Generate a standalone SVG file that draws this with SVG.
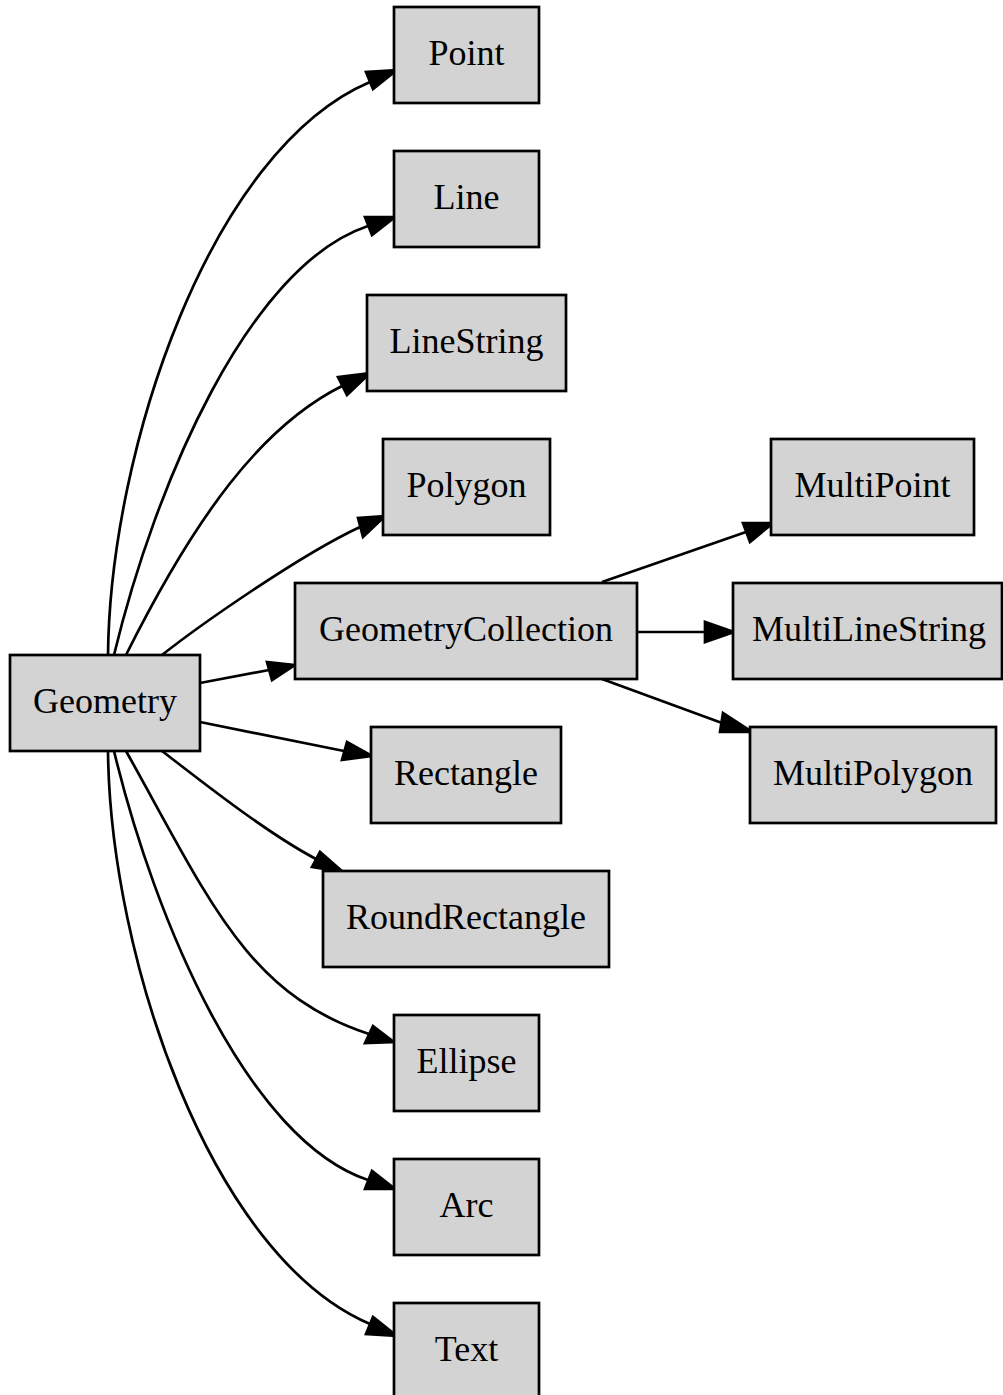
<svg xmlns="http://www.w3.org/2000/svg" width="1003" height="1395" viewBox="0 0 1003 1395">
<style>
.node rect{fill:#d3d3d3;stroke:#000;stroke-width:2.7}
.node text{font-family:"Liberation Serif","Times New Roman",serif;font-size:36px;text-anchor:middle;fill:#000}
.edges path{fill:none;stroke:#000;stroke-width:2.7}
.edges polygon{fill:#000;stroke:#000;stroke-width:2.7;stroke-linejoin:miter}
</style>
<rect x="0" y="0" width="1003" height="1395" fill="#fff"/>
<g id="edges" class="edges">
<path d="M108,655 C110,450 210,150 370,82"/><polygon points="397,70 366,72 373,89"/>
<path d="M114,655 C155,485 248,266 368,226"/><polygon points="395,217 365,217 372,235"/>
<path d="M126,655 C196,515 262,426 342,386"/><polygon points="370,373 338,377 347,395"/>
<path d="M162,655 C200,625 300,555 360,527"/><polygon points="385,516 358,518 363,537"/>
<path d="M200,683 L269,670"/><polygon points="295,665 267,662 272,680"/>
<path d="M200,722 L344,751"/><polygon points="372,756 347,742 342,760"/>
<path d="M162,751 C200,780 265,832 316,859"/><polygon points="343,872 320,852 312,867"/>
<path d="M126,751 C210,901 247,994 369,1034"/><polygon points="394,1042 373,1026 365,1043"/>
<path d="M114,751 C155,921 248,1140 368,1180"/><polygon points="395,1189 365,1189 372,1171"/>
<path d="M108,751 C110,956 210,1256 370,1324"/><polygon points="397,1336 366,1334 373,1317"/>
<path d="M602,582 L746,532"/><polygon points="773,523 743,523 750,542"/>
<path d="M637,632 L705,632"/><polygon points="734,632 705,622 705,642"/>
<path d="M602,679 L722,723"/><polygon points="752,732 723,713 720,732"/>
</g>
<g id="node-Geometry" class="node"><rect x="10" y="655" width="190" height="96"/><text x="105" y="713">Geometry</text></g>
<g id="node-Point" class="node"><rect x="394" y="7" width="145" height="96"/><text x="466.5" y="65">Point</text></g>
<g id="node-Line" class="node"><rect x="394" y="151" width="145" height="96"/><text x="466.5" y="209">Line</text></g>
<g id="node-LineString" class="node"><rect x="367" y="295" width="199" height="96"/><text x="466.5" y="353">LineString</text></g>
<g id="node-Polygon" class="node"><rect x="383" y="439" width="167" height="96"/><text x="466.5" y="497">Polygon</text></g>
<g id="node-GeometryCollection" class="node"><rect x="295" y="583" width="342" height="96"/><text x="466" y="641">GeometryCollection</text></g>
<g id="node-Rectangle" class="node"><rect x="371" y="727" width="190" height="96"/><text x="466" y="785">Rectangle</text></g>
<g id="node-RoundRectangle" class="node"><rect x="323" y="871" width="286" height="96"/><text x="466" y="929">RoundRectangle</text></g>
<g id="node-Ellipse" class="node"><rect x="394" y="1015" width="145" height="96"/><text x="466.5" y="1073">Ellipse</text></g>
<g id="node-Arc" class="node"><rect x="394" y="1159" width="145" height="96"/><text x="466.5" y="1217">Arc</text></g>
<g id="node-Text" class="node"><rect x="394" y="1303" width="145" height="96"/><text x="466.5" y="1361">Text</text></g>
<g id="node-MultiPoint" class="node"><rect x="771" y="439" width="203" height="96"/><text x="872.5" y="497">MultiPoint</text></g>
<g id="node-MultiLineString" class="node"><rect x="733" y="583" width="269" height="96"/><text x="869" y="641">MultiLineString</text></g>
<g id="node-MultiPolygon" class="node"><rect x="750" y="727" width="246" height="96"/><text x="873" y="785">MultiPolygon</text></g>
</svg>
